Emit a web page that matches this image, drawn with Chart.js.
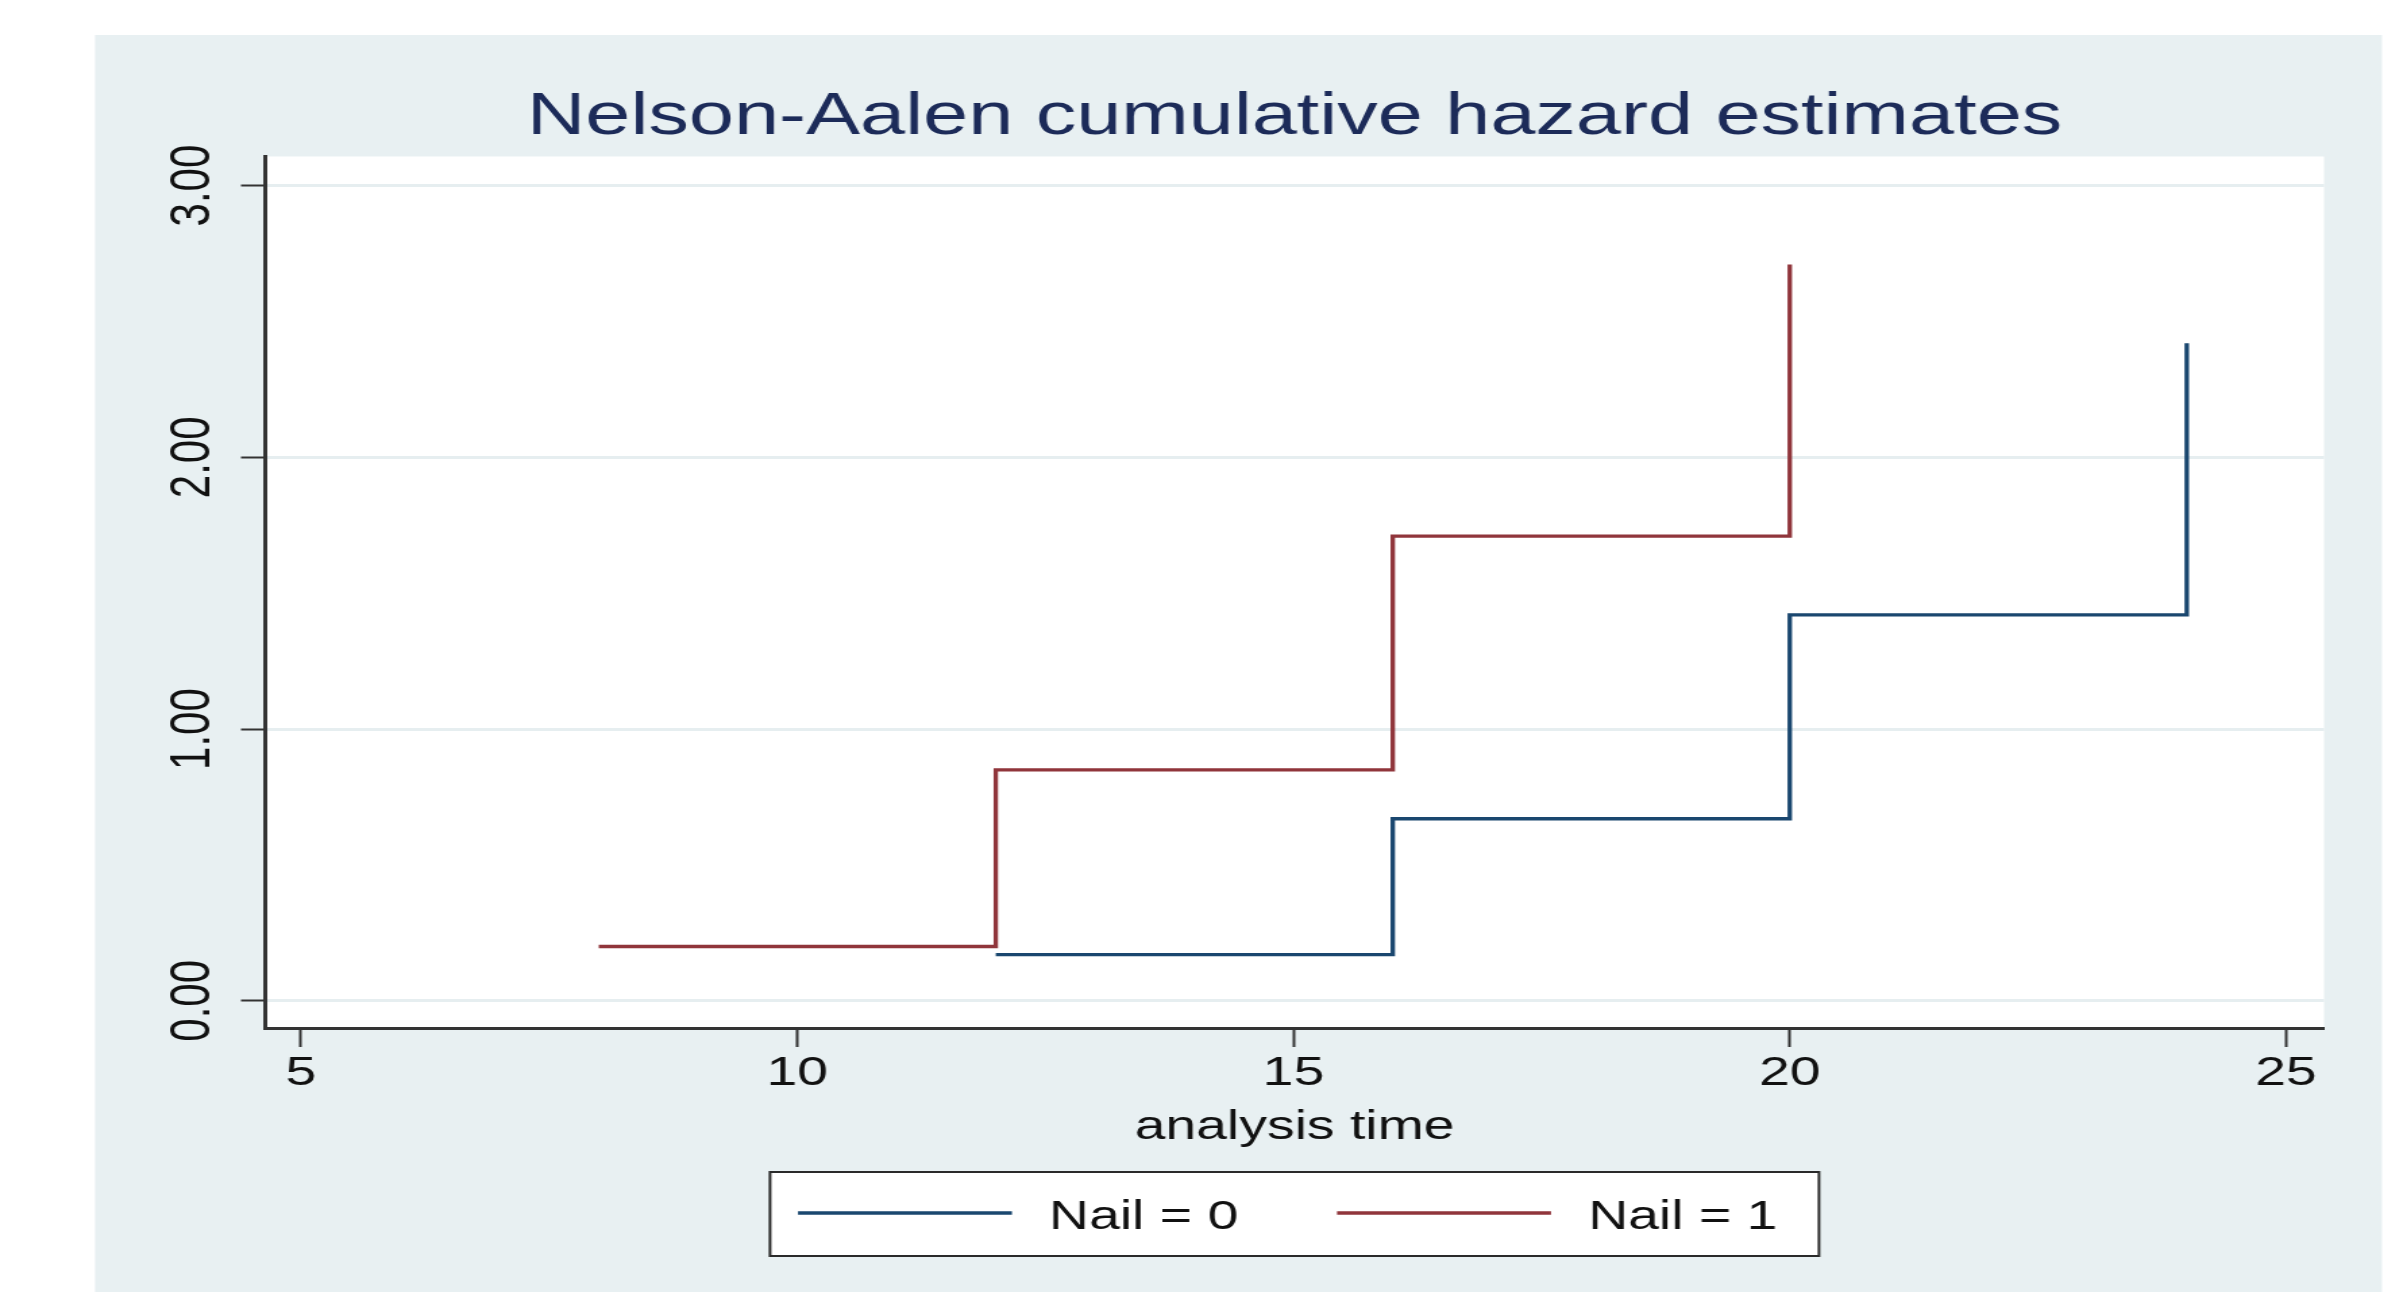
<!DOCTYPE html>
<html>
<head>
<meta charset="utf-8">
<title>Nelson-Aalen cumulative hazard estimates</title>
<script src="https://cdn.jsdelivr.net/npm/chart.js@4.4.1/dist/chart.umd.min.js"></script>
<style>
  html, body { margin: 0; padding: 0; background: #ffffff; overflow: hidden; }
  /* the Stata export is stretched sideways, so the chart is drawn narrower and widened */
  #stretch { position: absolute; left: 0; top: 0; width: 1783px; height: 1292px;
             transform: scaleX(1.35); transform-origin: 0 0; }
</style>
</head>
<body>
<div id="stretch"><canvas id="hazardChart"></canvas></div>
<script>
// Nelson-Aalen estimates
const nail0Time = [12, 16, 20, 24];
const nail0Hazard = [0.17, 0.67, 1.42, 2.42];
const nail1Time = [8, 12, 16, 20];
const nail1Hazard = [0.20, 0.85, 1.71, 2.71];

const seriesLabels = ['Nail = 0', 'Nail = 1'];
const xTicks = [5, 10, 15, 20, 25];
const yTicks = [0, 1, 2, 3];
const yTickLabels = ['0.00', '1.00', '2.00', '3.00'];

const FONT = "'Liberation Sans', Arial, Helvetica, sans-serif";

// light bluish graph region with white plot region
const stataBackground = {
    id: 'stataBackground',
    beforeDraw(chart) {
        const { ctx, chartArea: a } = chart;
        ctx.save();
        ctx.fillStyle = '#ffffff';
        ctx.fillRect(0, 0, chart.width, chart.height);
        ctx.fillStyle = '#e8f0f2';
        ctx.fillRect(70.4, 35, 1694, chart.height - 35);
        ctx.fillStyle = '#ffffff';
        ctx.fillRect(a.left, a.top, a.right - a.left, a.bottom - a.top);
        ctx.restore();
    }
};

// Stata writes the y labels turned on their side
const rotatedYLabels = {
    id: 'rotatedYLabels',
    afterDraw(chart) {
        const { ctx, chartArea: a, scales: { y } } = chart;
        ctx.save();
        ctx.fillStyle = '#111111';
        ctx.font = '42px ' + FONT;
        ctx.textAlign = 'center';
        ctx.textBaseline = 'middle';
        yTicks.forEach((v, i) => {
            ctx.save();
            ctx.translate(a.left - 53, y.getPixelForValue(v));
            ctx.rotate(-Math.PI / 2);
            ctx.fillText(yTickLabels[i], 0, 0);
            ctx.restore();
        });
        ctx.restore();
    }
};

// boxed legend under the axis title
const boxedLegend = {
    id: 'boxedLegend',
    afterDraw(chart) {
        const { ctx, chartArea: a } = chart;
        const boxW = 777, boxH = 84;
        const left = (a.left + a.right) / 2 - boxW / 2;
        const top = chart.height - 120;
        const midY = top + 41;
        ctx.save();
        ctx.fillStyle = '#ffffff';
        ctx.fillRect(left, top, boxW, boxH);
        ctx.strokeStyle = '#2a2a2a';
        ctx.lineWidth = 2;
        ctx.strokeRect(left, top, boxW, boxH);
        ctx.font = '41px ' + FONT;
        ctx.textAlign = 'left';
        ctx.textBaseline = 'middle';
        chart.data.datasets.forEach((ds, i) => {
            const x0 = left + 20.7 + i * 399.3;
            ctx.strokeStyle = ds.borderColor;
            ctx.lineWidth = 3.3;
            ctx.beginPath();
            ctx.moveTo(x0, midY);
            ctx.lineTo(x0 + 158.5, midY);
            ctx.stroke();
            ctx.fillStyle = '#111111';
            ctx.fillText(ds.label, x0 + 186, midY + 5);
        });
        ctx.restore();
    }
};

function renderHazardChart() {
    const ctx = document.getElementById('hazardChart').getContext('2d');
    new Chart(ctx, {
        type: 'line',
        data: {
            datasets: [{
                label: seriesLabels[0],
                data: nail0Time.map((t, i) => ({ x: t, y: nail0Hazard[i] })),
                borderColor: '#1a476f',
                backgroundColor: '#1a476f',
                borderWidth: 3.3,
                stepped: true,
                pointRadius: 0,
                fill: false
            }, {
                label: seriesLabels[1],
                data: nail1Time.map((t, i) => ({ x: t, y: nail1Hazard[i] })),
                borderColor: '#90353b',
                backgroundColor: '#90353b',
                borderWidth: 3.3,
                stepped: true,
                pointRadius: 0,
                fill: false
            }]
        },
        options: {
            responsive: true,
            maintainAspectRatio: false,
            devicePixelRatio: 1,
            animation: false,
            layout: { padding: { left: 0, right: 61.5, top: 40, bottom: 138 } },
            plugins: {
                legend: { display: false },
                tooltip: { enabled: false },
                title: {
                    display: true,
                    text: 'Nelson-Aalen cumulative hazard estimates',
                    color: '#1c2b59',
                    fullSize: false,
                    font: { family: FONT, size: 60, weight: 'normal' },
                    padding: { top: 41.5, bottom: 3 }
                }
            },
            scales: {
                x: {
                    type: 'linear',
                    min: 4.637,
                    max: 25.383,
                    afterBuildTicks: s => { s.ticks = xTicks.map(v => ({ value: v })); },
                    afterFit: s => { s.height = 126; },
                    grid: { drawOnChartArea: false, tickLength: 19, tickColor: '#333333', tickWidth: 2 },
                    border: { color: '#333333', width: 3 },
                    ticks: { color: '#111111', font: { family: FONT, size: 41 }, padding: 2, maxRotation: 0, autoSkip: false },
                    title: {
                        display: true,
                        text: 'analysis time',
                        color: '#111111',
                        font: { family: FONT, size: 41 },
                        padding: { top: 0, bottom: 2 }
                    }
                },
                y: {
                    type: 'linear',
                    min: -0.1,
                    max: 3.107,
                    afterBuildTicks: s => { s.ticks = yTicks.map(v => ({ value: v })); },
                    afterFit: s => { s.width = 196.3; },
                    grid: { color: '#e6eef0', lineWidth: 3, tickLength: 17.8, tickColor: '#333333', tickWidth: 2 },
                    border: { color: '#333333', width: 3 },
                    ticks: { display: false }
                }
            }
        },
        plugins: [stataBackground, rotatedYLabels, boxedLegend]
    });
}

document.addEventListener('DOMContentLoaded', renderHazardChart);
</script>
</body>
</html>
